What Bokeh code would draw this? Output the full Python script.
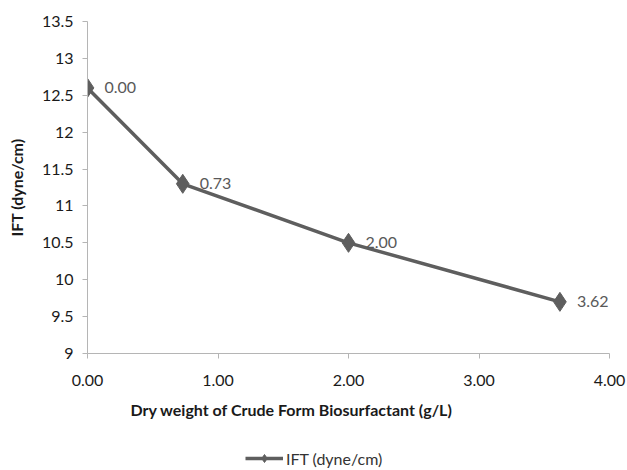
from bokeh.plotting import figure
from bokeh.layouts import column
from bokeh.models import (Range1d, ColumnDataSource, Title, Legend, LegendItem,
                          FixedTicker, NumeralTickFormatter)
from bokeh.core.properties import value
from bokeh.embed import file_html
from bokeh.resources import INLINE

# ---- data ----
x_vals = [0.00, 0.73, 2.00, 3.62]
ift_vals = [12.6, 11.3, 10.5, 9.7]
point_labels = ["0.00", "0.73", "2.00", "3.62"]
x_ticks = [0, 1, 2, 3, 4]
y_ticks = [9, 9.5, 10, 10.5, 11, 11.5, 12, 12.5, 13, 13.5]
x_title = "Dry weight of Crude Form  Biosurfactant (g/L)"
y_title = "IFT (dyne/cm)"
series_name = "IFT (dyne/cm)"

FONT = "Lato"
LINE_COLOR = "#5e5e5e"

src = ColumnDataSource(dict(x=x_vals, y=ift_vals, lab=point_labels))

p = figure(width=627, height=440, output_backend="svg", toolbar_location=None,
           x_range=Range1d(0, 4), y_range=Range1d(9, 13.5),
           min_border_left=87, min_border_right=18, min_border_top=21,
           min_border_bottom=87)
p.outline_line_color = None
p.xgrid.visible = False
p.ygrid.visible = False

# axes
p.xaxis.ticker = FixedTicker(ticks=x_ticks)
p.yaxis.ticker = FixedTicker(ticks=y_ticks)
p.xaxis.formatter = NumeralTickFormatter(format="0.00")
p.yaxis.formatter = NumeralTickFormatter(format="0.[0]")
for ax in (p.xaxis, p.yaxis):
    ax.axis_line_color = "#b5b5b5"
    ax.axis_line_width = 1
    ax.major_tick_line_color = "#b5b5b5"
    ax.major_tick_in = 0
    ax.major_tick_out = 5
    ax.minor_tick_line_color = None
    ax.major_label_text_font = FONT
    ax.major_label_text_font_size = "16px"
    ax.major_label_text_color = "#1a1a1a"
p.xaxis.major_label_standoff = 16
p.yaxis.major_label_standoff = 9

p.yaxis.axis_label = y_title
p.yaxis.axis_label_text_font = FONT
p.yaxis.axis_label_text_font_style = "bold"
p.yaxis.axis_label_text_font_size = "16px"
p.yaxis.axis_label_text_color = "#1a1a1a"
p.yaxis.axis_label_standoff = 13

# series
line_r = p.line("x", "y", source=src, line_color=LINE_COLOR, line_width=3.5)
pt_r = p.scatter("x", "y", source=src, marker="diamond", size=19,
                 fill_color=LINE_COLOR, line_color=LINE_COLOR)

# data labels
p.text("x", "y", text="lab", source=src, x_offset=17, text_baseline="middle",
       text_align="left", text_font=value(FONT), text_font_size="16px",
       text_color="#595959")

# x axis title, placed as a below-panel title (centered on the chart area)
xt = Title(text=x_title, align="left", offset=43, text_font=FONT,
           text_font_size="16px", text_font_style="bold",
           text_color="#1a1a1a", standoff=18)
p.add_layout(xt, "below")

# ---- legend strip (separate small figure under the chart; frames are aligned) ----
lf = figure(width=627, height=30, output_backend="svg", toolbar_location=None,
            x_axis_location=None, y_axis_location=None,
            x_range=Range1d(-10, -9), y_range=Range1d(-10, -9), min_border=0)
lf.outline_line_color = None
lf.xgrid.visible = False
lf.ygrid.visible = False
# same series, outside this strip's ranges: only its legend glyph is seen
l_line = lf.line("x", "y", source=src, line_color=LINE_COLOR, line_width=3.5)
l_pt = lf.scatter("x", "y", source=src, marker="diamond", size=11,
                  fill_color=LINE_COLOR, line_color=LINE_COLOR)
legend = Legend(items=[LegendItem(label=series_name, renderers=[l_line, l_pt])],
                location=(158, 2), padding=0, margin=0, spacing=0,
                glyph_width=38, glyph_height=20, label_standoff=3,
                label_text_font=FONT, label_text_font_size="16px",
                label_text_color="#333333", border_line_alpha=0,
                background_fill_alpha=0, orientation="horizontal")
lf.add_layout(legend)

layout = column(p, lf, spacing=0)
open("out.html", "w").write(file_html(layout, INLINE))
